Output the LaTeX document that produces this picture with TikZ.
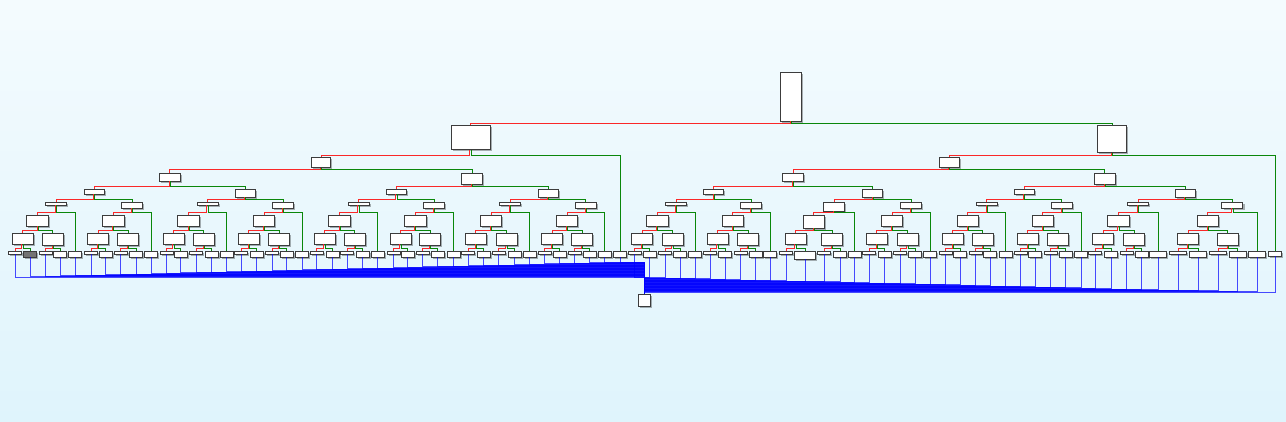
\documentclass[tikz,border=0pt]{standalone}
\usetikzlibrary{calc,shadows}

\definecolor{skytop}{RGB}{244,251,254}
\definecolor{skybot}{RGB}{223,244,252}
\definecolor{edge}{RGB}{60,60,60}
\definecolor{lored}{RGB}{250,40,40}
\definecolor{higreen}{RGB}{10,135,10}

\tikzset{
  box/.style={draw=edge, line width=0.9pt, fill=white, inner sep=0pt, anchor=north,
    drop shadow={shadow xshift=1.6pt, shadow yshift=-1.6pt, opacity=0.3, fill=black}},
  flat/.style={minimum width=13, minimum height=3},
  full/.style={minimum width=13, minimum height=6},
  dark/.style={full, fill=black!55},
  wide/.style={minimum width=17, minimum height=6},
  wideflat/.style={minimum width=17, minimum height=3},
  big/.style={minimum width=21, minimum height=8},
  endleaf/.style={minimum width=13, minimum height=5},
  lo/.style={lored, line width=1pt},
  hi/.style={higreen, line width=1pt},
  link/.style={blue, line width=0.8pt, opacity=0.7}
}

% parent centred over two children, red elbow to the left one, green to the right one
\newcommand\joinpair[6]{%
  \coordinate (m) at ($(#2)!0.5!(#3)$);
  \node[box, #6] (#1) at (m |- #4) {};
  \draw[lo] ([xshift=-0.6pt]#1.south) |- (#2.north |- #5) -- (#2.north);
  \draw[hi] ([xshift=0.6pt]#1.south) |- (#3.north |- #5) -- (#3.north);
}

\begin{document}
\begin{tikzpicture}[x=1pt, y=-1pt]
  % Page and sky background
  \path[use as bounding box] (0,0) rectangle (1286,421);
  \shade[top color=skytop, bottom color=skybot] (0,0) rectangle (1286,421);
  % Level tops (lv) and elbow heights (ln)
  \foreach \k/\y in {0/71.5, 1/125, 2/157, 3/172.5, 4/188.5, 5/201.5, 6/214.5, 7/232.5}
    \coordinate (lv\k) at (0,\y);
  \foreach \k/\y in {0/123.5, 1/155.5, 2/169.5, 3/186.5, 4/199.5, 5/212.5, 6/230.5, 7/248.5}
    \coordinate (ln\k) at (0,\y);
  % Leaves
  \foreach \i/\x/\s in {
      0/15/flat, 1/30/dark, 2/45.5/flat, 3/60/full, 4/75/full,
      5/91/flat, 6/105.5/full, 7/120.5/flat, 8/136/full, 9/151/full,
      10/166.5/flat, 11/180.5/full, 12/196/flat, 13/211.5/full, 14/226.5/full,
      15/241/flat, 16/256.5/full, 17/272/flat, 18/286.5/full, 19/302/full,
      20/316.5/flat, 21/332.5/full, 22/347/flat, 23/362.5/full, 24/377.5/full,
      25/393.5/flat, 26/407.5/full, 27/422.5/flat, 28/437.5/full, 29/453.5/full,
      30/468/flat, 31/483.5/full, 32/498.5/flat, 33/514.5/full, 34/529.5/full,
      35/544.5/flat, 36/559.5/full, 37/574.5/flat, 38/589.5/full, 39/604.5/full,
      40/620/full,
      41/634.5/flat, 42/649.5/full, 43/665/flat, 44/680/full, 45/695/full,
      46/710/flat, 47/725/full, 48/740.5/flat, 49/755.5/full, 50/770/full,
      51/786/flat, 52/805/big, 53/824/flat, 54/840/full, 55/854.5/full,
      56/869/flat, 57/884.5/full, 58/900/flat, 59/915/full, 60/930/full,
      61/945.5/flat, 62/960/full, 63/975.5/flat, 64/990/full, 65/1005.5/full,
      66/1020.5/flat, 67/1035/full, 68/1050.5/flat, 69/1065.5/full, 70/1081/full,
      71/1095/flat, 72/1111/full, 73/1126.5/flat, 74/1141.5/full, 75/1158/wide,
      76/1178/wideflat, 77/1198/wide, 78/1218/wideflat, 79/1237.5/wide, 80/1257/wide,
      81/1275/endleaf}
    \node[box, \s] (l\i) at (\x,250.5) {};
  % Pairs of leaves
  \foreach \t in {0,...,31} {
    \pgfmathtruncatemacro\a{5*floor(\t/2)+(\t>15)+2*mod(\t,2)}
    \pgfmathtruncatemacro\b{\a+1}
    \pgfmathsetmacro\h{mod(\t,2)==0 ? 11 : 12.5}
    \joinpair{t\t}{l\a}{l\b}{lv7}{ln7}{minimum width=21, minimum height=\h}
  }
  % Quads
  \foreach \p in {0,...,15} {
    \pgfmathtruncatemacro\a{2*\p}
    \pgfmathtruncatemacro\b{2*\p+1}
    \pgfmathsetmacro\h{\p==10 ? 13 : 11}
    \joinpair{q\p}{t\a}{t\b}{lv6}{ln6}{minimum width=21.5, minimum height=\h}
  }
  % Quad plus its last leaf
  \foreach \p in {0,...,15} {
    \pgfmathtruncatemacro\a{5*\p+(\p>7)+4}
    \pgfmathsetmacro\h{\p==10 ? 9 : (mod(\p,2)==0 ? 3 : 6)}
    \joinpair{p\p}{q\p}{l\a}{lv5}{ln5}{minimum width=21, minimum height=\h}
  }
  \foreach \m in {0,...,7} {
    \pgfmathtruncatemacro\a{2*\m}
    \pgfmathtruncatemacro\b{2*\m+1}
    \pgfmathsetmacro\h{mod(\m,2)==0 ? 5 : 8}
    \joinpair{s\m}{p\a}{p\b}{lv4}{ln4}{minimum width=20, minimum height=\h}
  }
  \foreach \k in {0,...,3} {
    \pgfmathtruncatemacro\a{2*\k}
    \pgfmathtruncatemacro\b{2*\k+1}
    \pgfmathsetmacro\h{mod(\k,2)==0 ? 8 : 11}
    \joinpair{r\k}{s\a}{s\b}{lv3}{ln3}{minimum width=21, minimum height=\h}
  }
  % Upper levels
  \joinpair{h0}{r0}{r1}{lv2}{ln2}{minimum width=19.5, minimum height=10}
  \joinpair{h1}{r2}{r3}{lv2}{ln2}{minimum width=20, minimum height=10}
  \joinpair{a0}{h0}{l40}{lv1}{ln1}{minimum width=39, minimum height=24}
  \joinpair{a1}{h1}{l81}{lv1}{ln1}{minimum width=29, minimum height=27}
  \joinpair{root}{a0}{a1}{lv0}{ln0}{minimum width=21, minimum height=49}
  % Sink under the leaves
  \node[box, minimum width=12, minimum height=12] (tail) at (644.5,293.5) {};
  \foreach \i in {0,...,81} {
    \pgfmathsetmacro\lv{\i<41 ? 277-0.375*\i : 277+0.375*(\i-41)}
    \draw[link] (l\i.south) |- (tail.north |- 0,\lv) -- (tail.north);
  }
\end{tikzpicture}
\end{document}
